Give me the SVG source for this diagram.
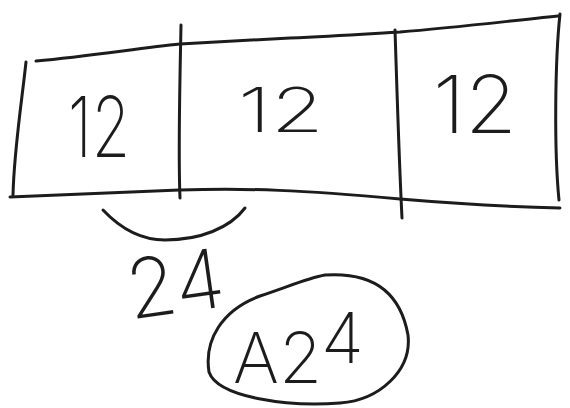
<svg xmlns="http://www.w3.org/2000/svg" width="570" height="408" viewBox="0 0 570 408">
<style>
.ink{fill:none;stroke:#1c1c1c;stroke-width:3;stroke-linecap:round;stroke-linejoin:round}
.hand{font-family:Inter,"DejaVu Sans","Liberation Sans",sans-serif;font-weight:200;fill:#1c1c1c}
</style>
<rect width="570" height="408" fill="#ffffff"/>
<g id="bar">
<path class="ink" d="M36,61 C90,56 140,48 180,44 L290,38 C340,36 380,33 400,32 C450,28 500,22 558,16"/>
<path class="ink" d="M26,62 C22,100 14,150 13,195"/>
<path class="ink" d="M10,197 C60,195 120,192 180,190 C250,188 300,190 400,199 C460,204 510,207 560,208"/>
<path class="ink" d="M560,14 C555,60 554,150 559,200"/>
</g>
<g id="cell-1">
<path class="ink" d="M181,25 C180,80 178,150 180,198"/>
<text class="hand" x="68" y="157" font-size="84" textLength="62" lengthAdjust="spacingAndGlyphs">12</text>
</g>
<g id="cell-2">
<path class="ink" d="M395,30 C397,90 399,160 402,218"/>
<text class="hand" x="238" y="132" font-size="62" textLength="86" lengthAdjust="spacingAndGlyphs">12</text>
</g>
<g id="cell-3">
<text class="hand" x="433" y="133" font-size="80" textLength="84" lengthAdjust="spacingAndGlyphs">12</text>
</g>
<g id="connectors">
<path class="ink" d="M103,210 C120,228 140,240 165,240 C200,240 230,228 245,208"/>
</g>
<g id="sum-24">
<text class="hand" x="127" y="313" font-size="82" textLength="98" lengthAdjust="spacingAndGlyphs" transform="rotate(-8 175 290)">24</text>
</g>
<g id="circled-A24">
<path class="ink" d="M325,275 C370,272 400,290 408,335 C412,370 380,400 340,403 C290,407 218,398 209,372 C204,340 222,310 260,296 C290,286 308,278 325,275 Z"/>
<text class="hand" x="233" y="383" font-size="70"><tspan>A</tspan><tspan>2</tspan><tspan dy="-20">4</tspan></text>
</g>
</svg>
